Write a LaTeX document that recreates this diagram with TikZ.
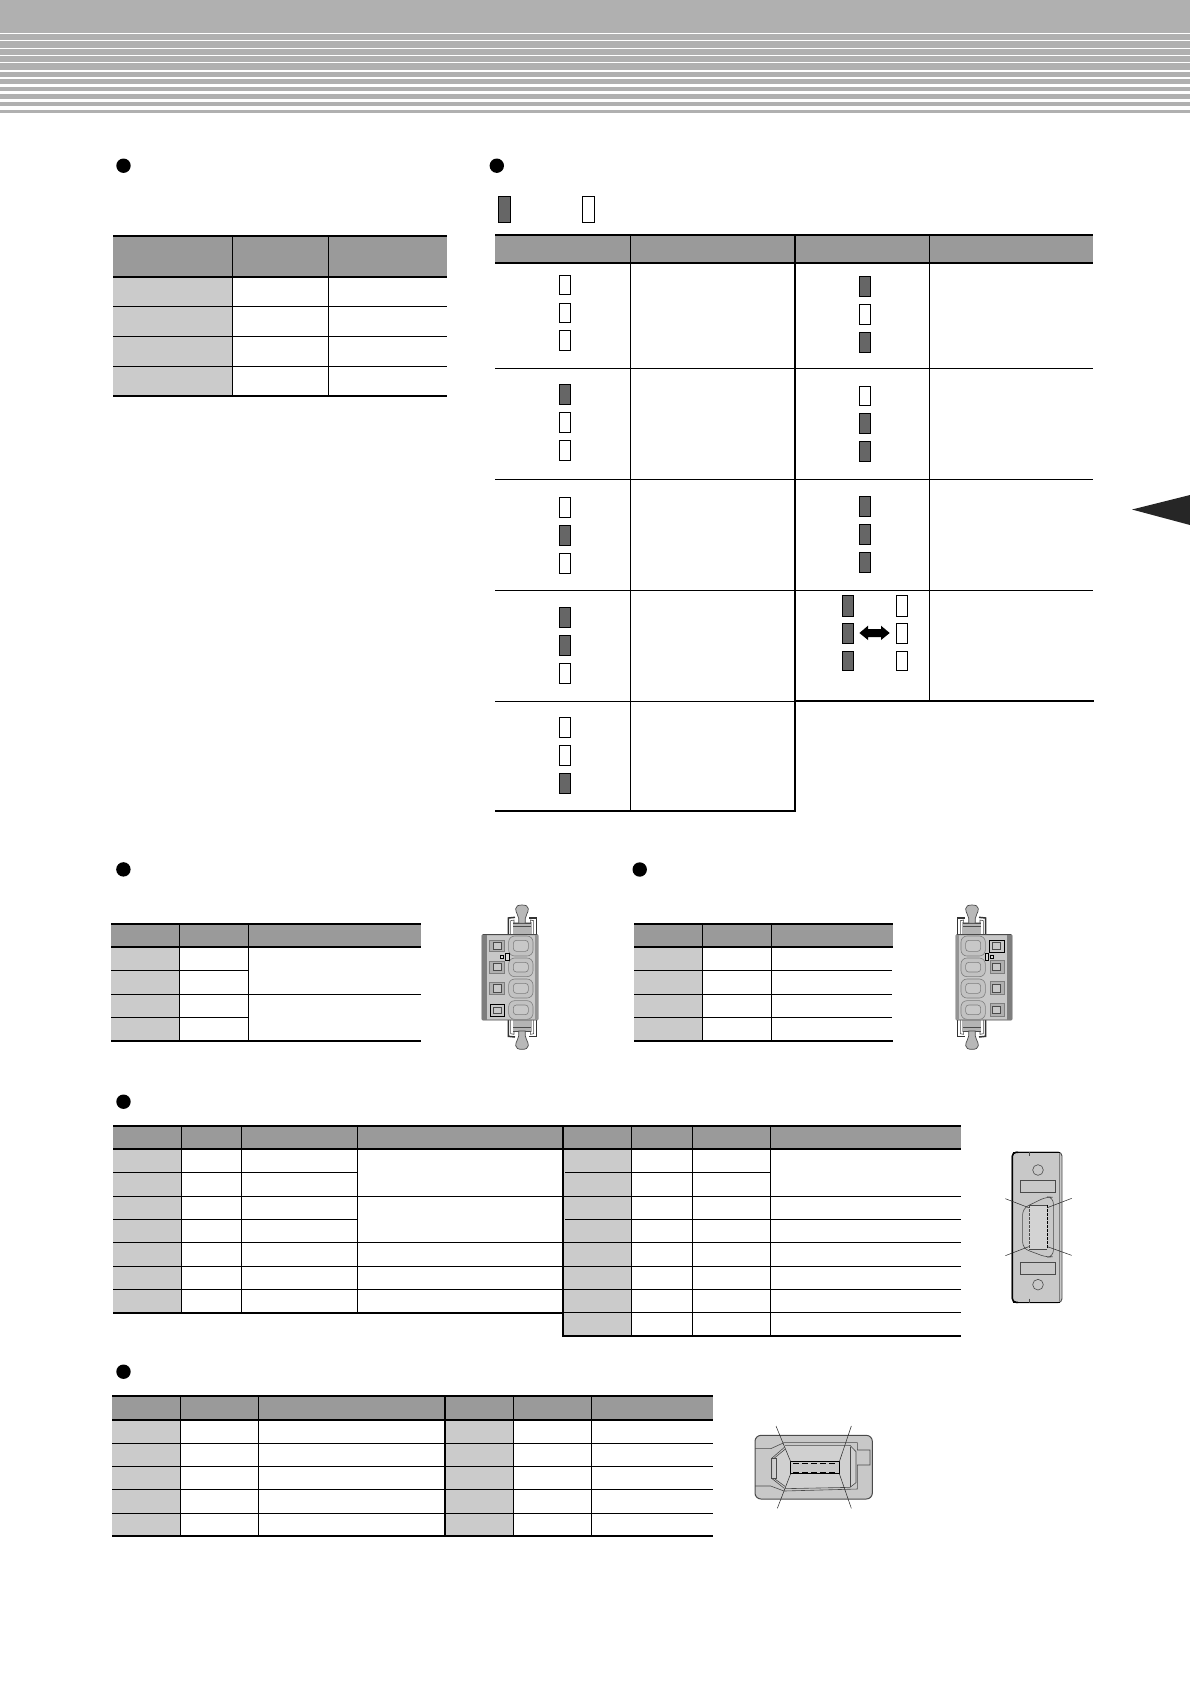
\documentclass[tikz,border=0pt]{standalone}
\definecolor{band}{HTML}{B0B0B0}
\definecolor{headgray}{HTML}{9A9A9A}
\definecolor{cellgray}{HTML}{CBCBCB}
\definecolor{ledgray}{HTML}{666666}
\definecolor{bodygray}{HTML}{C8C8C8}
\definecolor{edgegray}{HTML}{4A4A4A}
\definecolor{stripgray}{HTML}{7E7E7E}
\tikzset{
  thinrule/.style={draw=black,line width=1pt},
  thickrule/.style={draw=black,line width=2.1pt},
  ledon/.style={draw=black,line width=0.8pt,fill=ledgray},
  ledoff/.style={draw=black,line width=0.8pt,fill=white},
  bulletdot/.style={fill=black},
  cbody/.style={draw=edgegray,line width=0.9pt,fill=bodygray},
  cline/.style={draw=edgegray,line width=0.6pt},
  leader/.style={draw=black!85,line width=0.5pt},
}
\newcommand\hln[3]{\draw[thinrule] (#1,#3) -- (#2,#3);}
\newcommand\vln[3]{\draw[thinrule] (#1,#2) -- (#1,#3);}
\newcommand\hth[3]{\draw[thickrule] (#1,#3) -- (#2,#3);}
\newcommand\vth[3]{\draw[thickrule] (#1,#2) -- (#1,#3);}
\newcommand\hdr[4]{\fill[headgray] (#1,#3) rectangle (#2,#4);}
\newcommand\cel[4]{\fill[cellgray] (#1,#3) rectangle (#2,#4);}
\newcommand\ledF[4]{\draw[ledon] (#1,#3) rectangle (#2,#4);}
\newcommand\ledO[4]{\draw[ledoff] (#1,#3) rectangle (#2,#4);}
\newcommand\latchpart{%
  \fill[bodygray!90!black] (158,96) rectangle (216,133);
  \draw[draw=black!80,line width=1.5pt] (145,133) -- (145,84) -- (165,82);
  \draw[draw=black!80,line width=1.5pt] (229,133) -- (229,84) -- (207,84);
  \draw[cline] (152,133) -- (152,92) -- (162,90) -- (162,100);
  \draw[cline] (221,133) -- (221,92) -- (211,90) -- (211,100);
  \draw[cline] (160,100) -- (213,100);
  \draw[cline] (160,110) -- (213,110);
  \draw[draw=edgegray,line width=0.7pt,fill=bodygray!92!black] (176,100) -- (176,85)
    .. controls (176,75) and (167,70) .. (167,56)
    .. controls (167,48) and (175,45) .. (186,45)
    .. controls (197,45) and (205,48) .. (205,56)
    .. controls (205,70) and (196,75) .. (196,85) -- (196,100) -- cycle;
}
\newcommand\csquare[2]{%
  \draw[draw=stripgray,line width=0.9pt,fill=bodygray!88!black] (88,#1) rectangle (132,#2);
  \draw[draw=edgegray,line width=0.6pt,fill=bodygray] (100,#1+8) rectangle (124,#2-8);
}
\newcommand\csquarekey[2]{%
  \draw[draw=black,line width=1pt,fill=bodygray] (90,#1) rectangle (133,#2);
  \draw[draw=edgegray,line width=0.8pt,fill=bodygray] (100,#1+8) rectangle (124,#2-8);
}
\newcommand\cround[2]{%
  \draw[draw=stripgray,line width=0.6pt,fill=bodygray!97!black,rounded corners=6pt] (146,#1) rectangle (219,#2);
  \draw[draw=stripgray,line width=0.6pt,fill=bodygray,rounded corners=3pt] (160,#1+13) rectangle (205,#2-14);
}
\newcommand\connectorcommon{%
  \latchpart
  \begin{scope}[shift={(0,523)},yscale=-1]\latchpart\end{scope}
  \draw[cbody,rounded corners=1pt] (66,134) rectangle (234,390);
  \fill[stripgray] (67,135) rectangle (80,389);
  \fill[stripgray!70!bodygray] (224,135) rectangle (233,389);
  \cround{138}{198}\cround{204}{260}\cround{267}{324}\cround{332}{388}
  \draw[draw=black,line width=0.6pt,fill=white!30!bodygray] (121,196) rectangle (131,205);
  \draw[draw=black,line width=0.6pt,fill=white!30!bodygray] (136,190) rectangle (147,212);
}
\begin{document}
\begin{tikzpicture}[x=1pt,y=-1pt]
\path[use as bounding box] (0,0) rectangle (1190,1682);
\fill[white] (0,0) rectangle (1190,1682);
% header band with stripes
\fill[band] (0,0) rectangle (1190,113);
\foreach \a/\b in {33/33.8,40/41,48/48.8,55/55.8,62/63,70/72,77/79,84/87.3,90.7/94,98.7/102,106/110}
  \fill[white] (0,\a) rectangle (1190,\b);
% side marker
\fill[black!85] (1132,509.5) -- (1190,495) -- (1190,525) -- cycle;
% bullets
\foreach \x/\y in {123.5/165.7,496.8/165.7,123.4/869.4,639.7/869.5,123.5/1101.7,123.5/1371.7}
  \fill[bulletdot] (\x,\y) circle (7.2);

% ---- table 1
\hdr{113}{447}{236}{277}
\cel{113}{232}{277}{396}
\hth{113}{447}{236}\hth{113}{447}{277}
\hln{113}{447}{306}\hln{113}{447}{336.3}\hln{113}{447}{366.3}
\hth{113}{447}{396}
\vln{232.5}{236}{396}\vln{328.5}{236}{396}

% ---- table 2
\hdr{495}{1093}{235}{263}
\hth{495}{1093}{235}\hth{495}{1093}{263}
\hln{495}{1093}{368.7}\hln{495}{1093}{479.3}\hln{495}{1093}{590.3}
\hln{495}{795}{701.3}
\hth{794}{1094}{700.7}
\hth{495}{795.7}{811}
\vln{630.4}{235}{811}\vln{929.3}{235}{700.7}
\vth{794.7}{235}{811}
% legend
\ledF{498}{510}{196}{222.7}\ledO{582}{594}{196}{222.7}
% col 1
\ledO{559.2}{569.9}{275}{294.7}\ledO{559.2}{569.9}{303}{322.7}\ledO{559.2}{569.9}{330.3}{350.7}
\ledF{559.2}{569.9}{384.3}{404.7}\ledO{559.2}{569.9}{412.3}{432.7}\ledO{559.2}{569.9}{440.3}{460.7}
\ledO{559.2}{569.9}{497}{517.7}\ledF{559.2}{569.9}{525}{545}\ledO{559.2}{569.9}{553.3}{573.7}
\ledF{559.2}{569.9}{607.3}{627.7}\ledF{559.2}{569.9}{635.3}{655.7}\ledO{559.2}{569.9}{663.3}{683.7}
\ledO{559.2}{569.9}{717.3}{737.7}\ledO{559.2}{569.9}{745.3}{765.7}\ledF{559.2}{569.9}{773.3}{793.7}
% col 3
\ledF{859}{870.2}{276.3}{296.7}\ledO{859}{870.2}{304.3}{324.7}\ledF{859}{870.2}{332.3}{352.7}
\ledO{859}{870.2}{386.3}{405.7}\ledF{859}{870.2}{413.3}{433.7}\ledF{859}{870.2}{441.3}{461.7}
\ledF{859}{870.2}{496.3}{516.7}\ledF{859}{870.2}{524.3}{544.6}\ledF{859}{870.2}{552.3}{572.7}
\ledF{842.2}{853}{595.3}{616}\ledF{842.2}{853}{623.3}{643.7}\ledF{842.2}{853}{651}{670.7}
\ledO{896.2}{907}{595.3}{616}\ledO{896.2}{907}{623.3}{643.7}\ledO{896.2}{907}{651}{670.7}
% double arrow
\fill[black] (859.4,633) -- (868,625.7) -- (868,629) -- (881,629) -- (881,625.7) -- (889.7,633)
  -- (881,640) -- (881,637) -- (868,637) -- (868,640) -- cycle;

% ---- table 3
\hdr{111}{421}{924}{947}
\cel{111}{179}{947}{1041}
\hth{111}{421}{923.7}\hth{111}{421}{947}
\hln{111}{248.3}{970.3}\hln{111}{421}{994.3}\hln{111}{248.3}{1017.3}
\hth{111}{421}{1041}
\vln{179.3}{924}{1041}\vln{248.3}{924}{1041}

% ---- table 4
\hdr{634}{893}{924}{947}
\cel{634}{702}{947}{1041}
\hth{634}{893}{923.7}\hth{634}{893}{947}
\hln{634}{892}{970.3}\hln{634}{892}{994.3}\hln{634}{892}{1017.3}
\hth{634}{893}{1041}
\vln{702.3}{924}{1041}\vln{771.3}{924}{1041}

% ---- connector 1
\begin{scope}[shift={(460,890)},scale=1/3]
  \connectorcommon
  \csquare{150}{185}\csquare{213}{250}\csquare{276}{314}\csquarekey{343}{379}
\end{scope}
% ---- connector 2 (mirrored)
\begin{scope}[shift={(1034,890)},xscale=-1/3,yscale=1/3]
  \connectorcommon
  \csquarekey{150}{186}\csquare{212}{250}\csquare{274}{314}\csquare{340}{378}
\end{scope}

% ---- table 5
\hdr{113}{961.4}{1126}{1149}
\cel{113}{181}{1149}{1312.7}
\cel{564}{631.4}{1149}{1336}
\hth{113}{961.4}{1125.7}\hth{113}{961.4}{1149}
\hln{113}{357.3}{1172.3}\hln{113}{563}{1196.3}\hln{113}{357.3}{1219.3}
\hln{113}{563}{1242.3}\hln{113}{563}{1266.3}\hln{113}{563}{1289.3}
\hth{113}{563}{1312.7}
\hln{565}{770.7}{1172.3}\hln{563}{961.4}{1196.3}\hln{565}{961.4}{1219.3}
\hln{563}{961.4}{1242.3}\hln{563}{961.4}{1266.3}\hln{563}{961.4}{1289.3}\hln{563}{961.4}{1312.3}
\hth{562}{961.4}{1336}
\vln{181}{1126}{1312.7}\vln{241.3}{1126}{1312.7}\vln{357.3}{1126}{1312.7}
\vth{563}{1126}{1336}
\vln{631.4}{1126}{1336}\vln{692.4}{1126}{1336}\vln{770.7}{1126}{1336}

% ---- connector 3
\begin{scope}[shift={(990,1140)},scale=1/3]
  \draw[cbody,rounded corners=4pt] (66,36) rectangle (216,488);
  \draw[draw=black,line width=1.4pt,rounded corners=4pt] (84,37) -- (67,37) -- (67,487) -- (84,487);
  \draw[draw=black,line width=1pt] (70,37) -- (210,37);
  \draw[draw=black,line width=1pt] (70,487) -- (210,487);
  \draw[cline] (118,36) -- (118,48);\draw[cline] (118,476) -- (118,488);
  \draw[draw=stripgray,line width=0.5pt] (209,40) -- (209,484);
  \draw[cline] (144,90) circle (16);
  \draw[cline] (144,434) circle (16);
  \draw[cline] (92,120) rectangle (195,157);
  \draw[cline] (92,367) rectangle (195,404);
  \draw[cline,rounded corners=6pt] (98,205) -- (170,170) -- (190,172) -- (190,350) -- (170,352) -- (98,325) -- cycle;
  \fill[bodygray!80!white] (118,195) rectangle (172,327);
  \draw[cline] (118,195) -- (172,195);\draw[cline] (118,327) -- (172,327);
  \draw[draw=edgegray,line width=0.8pt,dash pattern=on 3pt off 1pt] (118,195) -- (118,327);
  \draw[draw=black,line width=1pt,dash pattern=on 3pt off 1pt] (172,195) -- (172,327);
  \draw[leader] (46,176) -- (116,203);
  \draw[leader] (245,175) -- (172,203);
  \draw[leader] (46,347) -- (116,320);
  \draw[leader] (245,346) -- (172,320);
\end{scope}

% ---- table 6
\hdr{112.4}{712.9}{1396}{1420}
\cel{112.4}{180}{1420}{1535.7}
\cel{445}{513.3}{1420}{1535.7}
\hth{112.4}{712.9}{1395.7}\hth{112.4}{712.9}{1420}
\hln{112.4}{712.9}{1443.3}\hln{112.4}{712.9}{1466.3}\hln{112.4}{712.9}{1489.3}\hln{112.4}{712.9}{1513.3}
\hth{112.4}{712.9}{1535.7}
\vln{180.2}{1396}{1535.7}\vln{258.6}{1396}{1535.7}
\vth{445}{1396}{1535.7}
\vln{513.3}{1396}{1535.7}\vln{591.2}{1396}{1535.7}

% ---- connector 4
\begin{scope}[shift={(740,1410)},scale=1/3]
  \draw[cbody,line width=1pt,rounded corners=6pt] (45,76) rectangle (397,267);
  \draw[cline] (45,116) -- (92,116) -- (132,98) -- (352,98) -- (352,120) -- (390,120) -- (390,165) -- (352,165) -- (352,237) -- (132,243) -- (92,228) -- (45,228);
  \fill[bodygray!85!white] (135,106) -- (330,106) -- (348,125) -- (348,218) -- (330,232) -- (135,236) -- (100,205) -- (100,145) -- cycle;
  \draw[cline] (135,106) -- (330,106) -- (348,125) -- (348,218) -- (330,232) -- (135,236);
  \draw[cline] (95,145) -- (110,145) -- (110,205) -- (95,205) -- cycle;
  \draw[cline] (95,145) -- (133,112);\draw[cline] (102,145) -- (135,118);
  \draw[cline] (95,205) -- (133,235);\draw[cline] (102,205) -- (135,229);
  \draw[cline] (330,112) -- (330,232);
  \draw[draw=black,line width=0.8pt,fill=bodygray] (152,155) rectangle (298,191);
  \foreach \k in {159,186,213,240,267}{
    \draw[draw=black,line width=1pt] (\k,160) -- (\k+18,160);
    \draw[draw=black,line width=1pt] (\k,186) -- (\k+18,186);
  }
  \draw[leader] (108,48) -- (152,155);
  \draw[leader] (334,48) -- (298,155);
  \draw[leader] (112,295) -- (152,191);
  \draw[leader] (334,295) -- (298,191);
\end{scope}
\end{tikzpicture}
\end{document}
